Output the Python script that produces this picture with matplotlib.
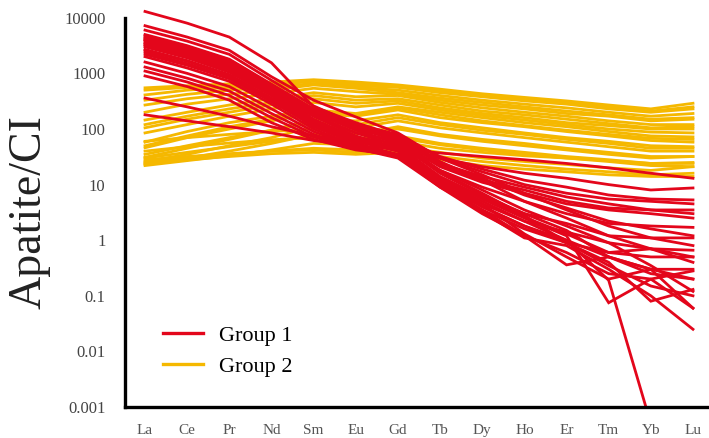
import numpy as np
import matplotlib
matplotlib.use("Agg")
import matplotlib.pyplot as plt
from matplotlib.lines import Line2D

plt.rcParams["font.family"] = ["Liberation Serif", "DejaVu Serif"]

# ================= data =================
elements = ["La", "Ce", "Pr", "Nd", "Sm", "Eu", "Gd",
            "Tb", "Dy", "Ho", "Er", "Tm", "Yb", "Lu"]

ytick_vals = [0.001, 0.01, 0.1, 1, 10, 100, 1000, 10000]
ytick_labels = ["0.001", "0.01", "0.1", "1", "10", "100", "1000", "10000"]

nan = np.nan

### group 1 (red), apatite / chondrite ###
group1 = [
    [13000, 8000, 4500, 1550, 250, 130, 75, 26, 12, 5, 2.5, 1.2, 0.7, 0.4],
    [7200, 4500, 2600, 870, 330, 165, 85, 30, 15, 7, 3.5, 1.8, 1.1, 0.8],
    [6000, 3800, 2200, 750, 260, 120, 60, 18, 8, 3.5, 1.8, 0.9, 0.35, 0.12],
    [4800, 3000, 1750, 620, 200, 95, 55, 16, 6.5, 3, 1.5, 0.5, 0.25, 0.2],
    [4300, 2700, 1550, 560, 180, 85, 50, 14, 6, 2.6, 1.3, 0.6, 0.7, 0.5],
    [3900, 2450, 1400, 520, 190, 100, 70, 24, 13, 6.5, 3.8, 2.2, 1.6, 1.2],
    [3500, 2200, 1250, 470, 150, 70, 45, 13, 5.5, 2.5, 1.2, 0.075, 0.2, 0.28],
    [3200, 2000, 1150, 430, 140, 65, 40, 11, 4, 1.8, 0.9, 0.4, 0.08, 0.13],
    [3000, 1900, 1050, 400, 130, 65, 42, 12, 5, 2.2, 1.0, 0.19, 0.0005, nan],
    [2700, 1700, 950, 360, 120, 60, 40, 10, 3.5, 1.2, 0.36, 0.5, 0.3, 0.06],
    [2400, 1500, 850, 330, 110, 55, 35, 9.5, 3.2, 1.1, 0.8, 0.3, 0.1, 0.025],
    [2000, 1250, 720, 280, 100, 50, 33, 9, 3, 1.2, 0.6, 0.25, 0.2, 0.06],
    [1600, 1000, 580, 230, 90, 48, 35, 10, 4, 1.8, 1.0, 0.5, 0.3, 0.3],
    [1300, 820, 480, 190, 80, 45, 30, 9, 3.5, 1.6, 0.9, 0.6, 0.5, 0.5],
    [1100, 700, 400, 160, 72, 44, 32, 10, 4.5, 2.2, 1.4, 0.9, 0.7, 0.66],
    [900, 580, 330, 130, 65, 42, 34, 12, 6, 3, 2.0, 1.2, 1.1, 1.1],
    [360, 250, 170, 110, 75, 58, 48, 30, 21, 16, 13, 10, 8, 8.7],
    [180, 140, 110, 85, 62, 50, 44, 37, 32, 28, 24, 20, 16, 13],
    [4500, 2850, 1650, 590, 210, 100, 65, 24, 14, 9, 6, 4.5, 3.5, 3.0],
    [4000, 2550, 1450, 540, 220, 120, 80, 30, 17, 10, 7, 5.5, 5, 4.5],
    [3600, 2300, 1300, 500, 200, 110, 75, 32, 19, 12, 9, 6.5, 5.5, 5.3],
    [3300, 2100, 1200, 460, 170, 85, 60, 21, 11, 7, 4.5, 3.5, 3, 2.5],
    [2200, 1400, 800, 310, 115, 62, 50, 18, 9, 5, 3, 2, 1.8, 1.7],
    [2600, 1650, 920, 350, 130, 70, 55, 22, 12, 8, 5, 3.8, 3.5, 3.5],
    [4100, 2600, 1500, 550, 170, 75, 45, 12, 4.5, 1.3, 0.5, 0.2, 0.3, 0.2],
    [5000, 3150, 1800, 640, 230, 110, 60, 17, 7, 2.8, 0.9, 0.35, 0.15, 0.1],
]

### group 2 (yellow) ###
group2 = [
    [550, 600, 650, 700, 770, 700, 620, 520, 430, 370, 320, 270, 230, 290],
    [410, 500, 560, 620, 720, 600, 560, 450, 380, 320, 280, 230, 200, 230],
    [270, 350, 420, 500, 620, 540, 450, 360, 300, 250, 210, 180, 150, 160],
    [200, 280, 350, 430, 540, 470, 420, 330, 270, 230, 190, 170, 140, 150],
    [145, 200, 270, 350, 450, 380, 400, 300, 240, 200, 170, 140, 120, 120],
    [105, 150, 200, 270, 350, 290, 320, 240, 190, 160, 130, 115, 100, 100],
    [58, 90, 130, 170, 220, 190, 250, 200, 160, 130, 110, 90, 75, 72],
    [46, 70, 100, 140, 190, 170, 220, 160, 130, 110, 90, 75, 62, 58],
    [31, 45, 65, 95, 150, 140, 180, 130, 105, 85, 70, 60, 50, 48],
    [26, 35, 50, 70, 110, 105, 140, 105, 85, 70, 58, 48, 40, 40],
    [23, 30, 40, 55, 80, 80, 110, 80, 65, 55, 45, 38, 32, 32],
    [22, 27, 33, 42, 55, 52, 60, 45, 38, 33, 30, 27, 24, 25],
    [25, 30, 35, 40, 45, 42, 48, 38, 30, 26, 23, 20, 18, 21],
    [28, 32, 36, 40, 42, 38, 42, 32, 26, 22, 19, 17, 15, 16],
    [500, 560, 620, 680, 740, 650, 580, 480, 400, 340, 300, 250, 210, 250],
    [330, 420, 500, 560, 660, 560, 500, 400, 330, 280, 240, 200, 170, 190],
    [120, 170, 230, 300, 400, 330, 350, 270, 210, 180, 150, 125, 105, 110],
    [85, 120, 170, 230, 300, 250, 290, 220, 175, 145, 120, 100, 88, 85],
    [50, 75, 110, 150, 200, 180, 240, 180, 140, 115, 95, 80, 68, 65],
    [35, 50, 70, 95, 130, 120, 160, 120, 95, 80, 65, 55, 45, 45],
    [30, 38, 48, 60, 75, 68, 75, 55, 45, 38, 32, 28, 24, 24],
    [24, 28, 32, 36, 38, 35, 38, 28, 22, 19, 17, 15, 14, 14],
    [60, 70, 80, 90, 100, 90, 100, 75, 60, 50, 42, 35, 30, 32],
    [40, 48, 56, 64, 70, 62, 70, 52, 42, 35, 30, 26, 22, 21],
]

red = "#e3061b"
yellow = "#f5b800"

# ================= plot =================
W, H = 709, 438
fig = plt.figure(figsize=(W / 100, H / 100), dpi=100)
ax = fig.add_axes([125 / W, 1 - 407 / H, (W - 125) / W, (407 - 8) / H])

x = np.arange(len(elements))

for row in group2:
    ax.plot(x, row, color=yellow, lw=2.0, solid_joinstyle="miter")
for row in group1:
    ax.plot(x, row, color=red, lw=2.0, solid_joinstyle="miter")

ax.set_yscale("log")
ax.set_ylim(0.001, 15000)
ax.set_xlim(-0.475, 13.38)

ax.set_yticks(ytick_vals)
ax.set_yticklabels(ytick_labels)
ax.minorticks_off()
ax.set_xticks(x)
ax.set_xticklabels(elements)

ax.tick_params(axis="y", length=0, pad=14, labelsize=12, labelcolor="#444444")
ax.tick_params(axis="x", length=0, pad=12, labelsize=11, labelcolor="#555555")

for side in ["top", "right"]:
    ax.spines[side].set_visible(False)
ax.spines["left"].set_linewidth(2.4)
ax.spines["bottom"].set_linewidth(2.4)
ax.spines["left"].set_bounds(0.001, 10000)

fig.text(29 / W, 1 - 212 / H, "Apatite/CI", rotation=90, fontsize=33,
         ha="center", va="center", color="#222222")

legend_elements = [Line2D([0], [0], color=red, lw=2.4, label="Group 1"),
                   Line2D([0], [0], color=yellow, lw=2.4, label="Group 2")]
ax.legend(handles=legend_elements, loc="upper left",
          bbox_to_anchor=(163 / W, 1 - 325 / H), bbox_transform=fig.transFigure,
          frameon=False, fontsize=16, handlelength=1.8, handletextpad=0.7,
          borderpad=0, borderaxespad=0, labelspacing=0.5)

fig.savefig("out.png", dpi=100)
